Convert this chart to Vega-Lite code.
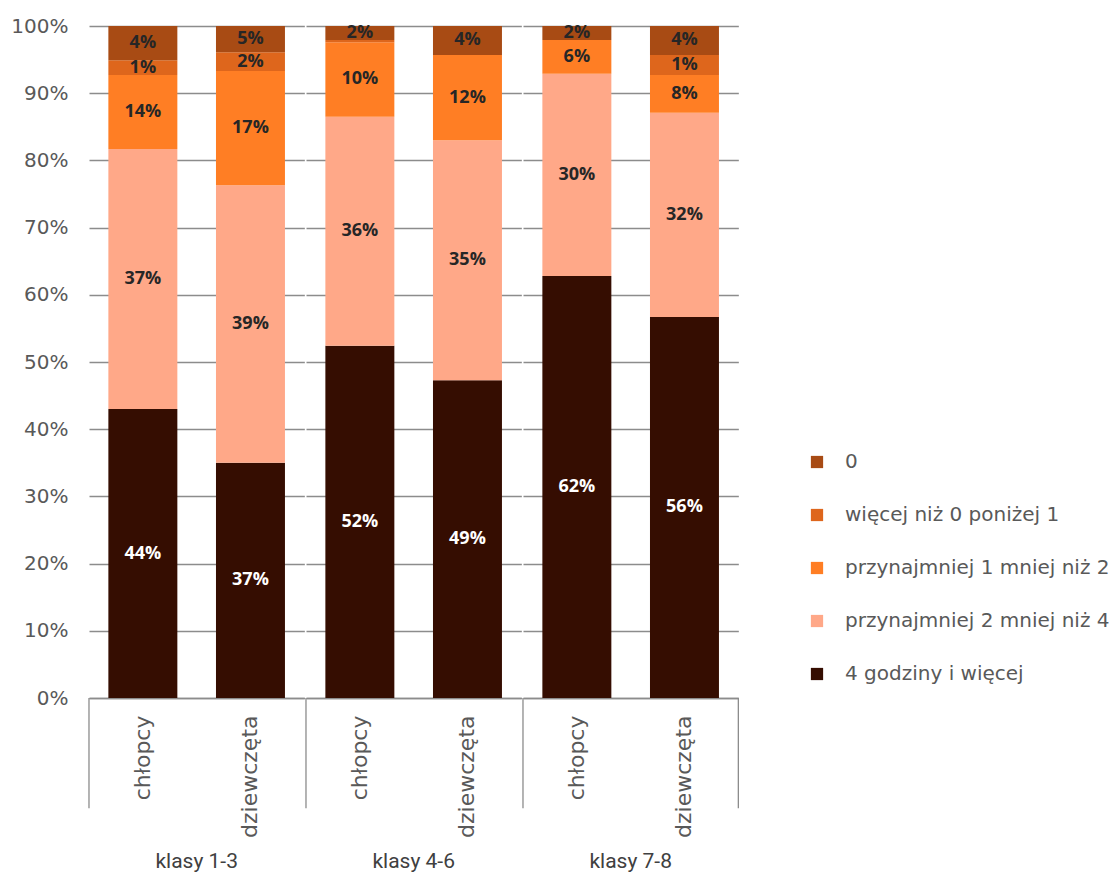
{
  "$schema": "https://vega.github.io/schema/vega-lite/v6.json",
  "background": "white",
  "padding": {"left": 10, "top": 16, "right": 5, "bottom": 5},
  "datasets": {
    "bars": [
      {"group": "klasy 1-3", "gender": "chłopcy", "cat": "4 godziny i więcej", "ord": 1, "value": 0.430, "label": "44%"},
      {"group": "klasy 1-3", "gender": "chłopcy", "cat": "przynajmniej 2 mniej niż 4", "ord": 2, "value": 0.387, "label": "37%"},
      {"group": "klasy 1-3", "gender": "chłopcy", "cat": "przynajmniej 1 mniej niż 2", "ord": 3, "value": 0.110, "label": "14%"},
      {"group": "klasy 1-3", "gender": "chłopcy", "cat": "więcej niż 0 poniżej 1", "ord": 4, "value": 0.022, "label": "1%"},
      {"group": "klasy 1-3", "gender": "chłopcy", "cat": "0", "ord": 5, "value": 0.051, "label": "4%"},
      {"group": "klasy 1-3", "gender": "dziewczęta", "cat": "4 godziny i więcej", "ord": 1, "value": 0.350, "label": "37%"},
      {"group": "klasy 1-3", "gender": "dziewczęta", "cat": "przynajmniej 2 mniej niż 4", "ord": 2, "value": 0.413, "label": "39%"},
      {"group": "klasy 1-3", "gender": "dziewczęta", "cat": "przynajmniej 1 mniej niż 2", "ord": 3, "value": 0.170, "label": "17%"},
      {"group": "klasy 1-3", "gender": "dziewczęta", "cat": "więcej niż 0 poniżej 1", "ord": 4, "value": 0.028, "label": "2%"},
      {"group": "klasy 1-3", "gender": "dziewczęta", "cat": "0", "ord": 5, "value": 0.039, "label": "5%"},
      {"group": "klasy 4-6", "gender": "chłopcy", "cat": "4 godziny i więcej", "ord": 1, "value": 0.524, "label": "52%"},
      {"group": "klasy 4-6", "gender": "chłopcy", "cat": "przynajmniej 2 mniej niż 4", "ord": 2, "value": 0.341, "label": "36%"},
      {"group": "klasy 4-6", "gender": "chłopcy", "cat": "przynajmniej 1 mniej niż 2", "ord": 3, "value": 0.111, "label": "10%"},
      {"group": "klasy 4-6", "gender": "chłopcy", "cat": "więcej niż 0 poniżej 1", "ord": 4, "value": 0.003, "label": ""},
      {"group": "klasy 4-6", "gender": "chłopcy", "cat": "0", "ord": 5, "value": 0.021, "label": "2%"},
      {"group": "klasy 4-6", "gender": "dziewczęta", "cat": "4 godziny i więcej", "ord": 1, "value": 0.473, "label": "49%"},
      {"group": "klasy 4-6", "gender": "dziewczęta", "cat": "przynajmniej 2 mniej niż 4", "ord": 2, "value": 0.357, "label": "35%"},
      {"group": "klasy 4-6", "gender": "dziewczęta", "cat": "przynajmniej 1 mniej niż 2", "ord": 3, "value": 0.127, "label": "12%"},
      {"group": "klasy 4-6", "gender": "dziewczęta", "cat": "0", "ord": 5, "value": 0.043, "label": "4%"},
      {"group": "klasy 7-8", "gender": "chłopcy", "cat": "4 godziny i więcej", "ord": 1, "value": 0.628, "label": "62%"},
      {"group": "klasy 7-8", "gender": "chłopcy", "cat": "przynajmniej 2 mniej niż 4", "ord": 2, "value": 0.301, "label": "30%"},
      {"group": "klasy 7-8", "gender": "chłopcy", "cat": "przynajmniej 1 mniej niż 2", "ord": 3, "value": 0.050, "label": "6%"},
      {"group": "klasy 7-8", "gender": "chłopcy", "cat": "0", "ord": 5, "value": 0.021, "label": "2%"},
      {"group": "klasy 7-8", "gender": "dziewczęta", "cat": "4 godziny i więcej", "ord": 1, "value": 0.567, "label": "56%"},
      {"group": "klasy 7-8", "gender": "dziewczęta", "cat": "przynajmniej 2 mniej niż 4", "ord": 2, "value": 0.304, "label": "32%"},
      {"group": "klasy 7-8", "gender": "dziewczęta", "cat": "przynajmniej 1 mniej niż 2", "ord": 3, "value": 0.056, "label": "8%"},
      {"group": "klasy 7-8", "gender": "dziewczęta", "cat": "więcej niż 0 poniżej 1", "ord": 4, "value": 0.030, "label": "1%"},
      {"group": "klasy 7-8", "gender": "dziewczęta", "cat": "0", "ord": 5, "value": 0.043, "label": "4%"}
    ]
  },
  "data": {"name": "bars"},
  "transform": [
    {"stack": "value", "groupby": ["group", "gender"], "sort": [{"field": "ord", "order": "ascending"}], "as": ["y0", "y1"]}
  ],
  "facet": {
    "column": {
      "field": "group",
      "type": "nominal",
      "sort": ["klasy 1-3", "klasy 4-6", "klasy 7-8"],
      "header": {"title": null, "labelOrient": "bottom", "labelFontSize": 21, "labelColor": "#404040", "labelFont": "Roboto", "labelPadding": 13}
    }
  },
  "spacing": 0,
  "resolve": {"axis": {"x": "independent"}},
  "spec": {
    "width": 215.33,
    "height": 672,
    "layer": [
      {
        "mark": {"type": "bar"},
        "encoding": {
          "x": {
            "field": "gender", "type": "nominal", "sort": ["chłopcy", "dziewczęta"],
            "scale": {"paddingInner": 0.359, "paddingOuter": 0.18},
            "axis": {"title": null, "labelAngle": -90, "labelAlign": "right", "labelBaseline": "middle", "labelPadding": 17, "labelFontSize": 22, "labelColor": "#595959", "labelFont": "DejaVu Sans", "ticks": false, "domain": true, "domainColor": "#8c8c8c", "domainWidth": 1.3}
          },
          "y": {
            "field": "y0", "type": "quantitative",
            "scale": {"domain": [0, 1], "nice": false},
            "axis": {"title": null, "format": ".0%", "values": [0, 0.1, 0.2, 0.3, 0.4, 0.5, 0.6, 0.7, 0.8, 0.9, 1], "labelFontSize": 20, "labelColor": "#595959", "labelFont": "DejaVu Sans", "labelPadding": 20, "ticks": false, "domain": false, "grid": true, "gridColor": "#8c8c8c", "gridWidth": 1.3}
          },
          "y2": {"field": "y1"},
          "color": {
            "field": "cat", "type": "nominal",
            "scale": {
              "domain": ["0", "więcej niż 0 poniżej 1", "przynajmniej 1 mniej niż 2", "przynajmniej 2 mniej niż 4", "4 godziny i więcej"],
              "range": ["#A84B14", "#DE661C", "#FF7E24", "#FFA888", "#350D01"]
            },
            "legend": {"title": null, "orient": "none", "legendX": 718, "legendY": 426, "symbolType": "square", "symbolSize": 150, "symbolStrokeWidth": 0, "labelFontSize": 20, "labelColor": "#595959", "labelFont": "DejaVu Sans", "labelOffset": 18, "labelLimit": 400, "rowPadding": 33}
          }
        }
      },
      {
        "transform": [
          {"fold": ["y0", "y1"], "as": ["edge", "pos"]},
          {"aggregate": [{"op": "mean", "field": "pos", "as": "mid"}], "groupby": ["group", "gender", "cat", "label"]}
        ],
        "mark": {"type": "text", "fontSize": 18, "fontWeight": "bold", "font": "Open Sans"},
        "encoding": {
          "x": {"field": "gender", "type": "nominal", "sort": ["chłopcy", "dziewczęta"]},
          "y": {"field": "mid", "type": "quantitative"},
          "text": {"field": "label"},
          "color": {"condition": {"test": "datum.cat === '4 godziny i więcej'", "value": "#ffffff"}, "value": "#262626"}
        }
      },
      {
        "transform": [{"filter": "datum.gender === 'chłopcy' && datum.ord === 1"}],
        "mark": {"type": "rule", "color": "#8c8c8c", "strokeWidth": 1.3},
        "encoding": {
          "x": {"field": "gender", "type": "nominal", "sort": ["chłopcy", "dziewczęta"], "bandPosition": -0.281},
          "y": {"datum": 0},
          "y2": {"datum": -0.164}
        }
      },
      {
        "transform": [{"filter": "datum.gender === 'dziewczęta' && datum.ord === 1 && datum.group === 'klasy 7-8'"}],
        "mark": {"type": "rule", "color": "#8c8c8c", "strokeWidth": 1.3},
        "encoding": {
          "x": {"field": "gender", "type": "nominal", "sort": ["chłopcy", "dziewczęta"], "bandPosition": 1.281},
          "y": {"datum": 0},
          "y2": {"datum": -0.164}
        }
      }
    ]
  },
  "config": {"view": {"stroke": null}}
}
